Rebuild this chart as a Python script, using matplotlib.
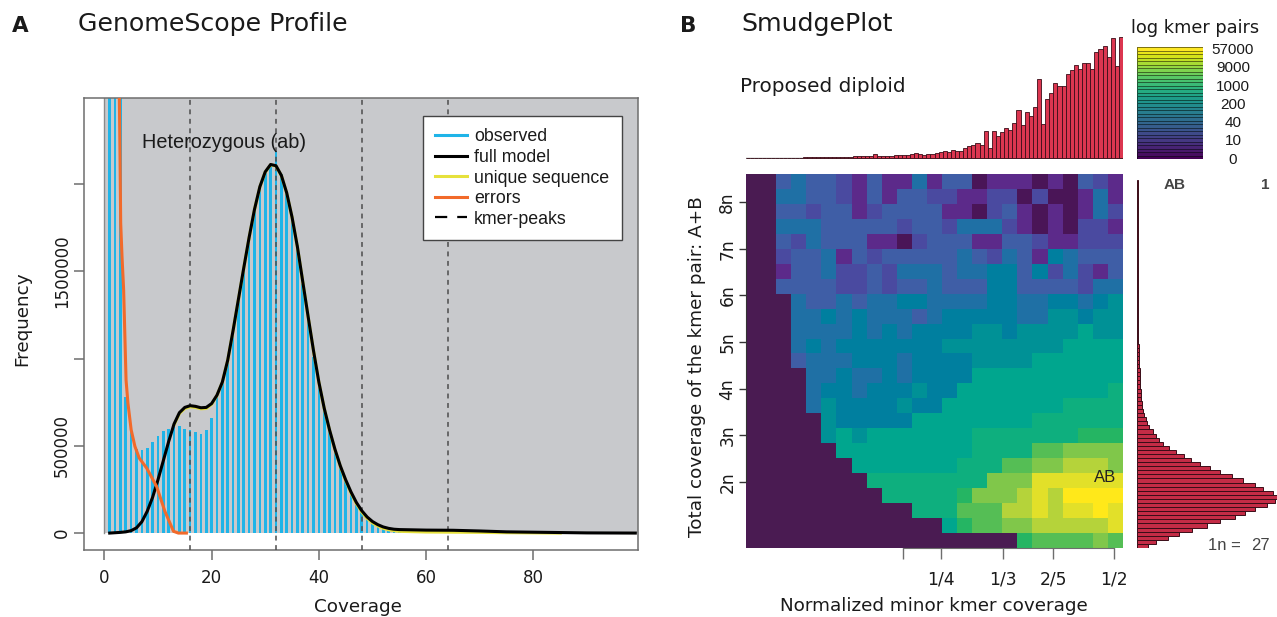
"""
Two-panel figure: GenomeScope k-mer profile (A) and SmudgePlot (B).
"""
import matplotlib
matplotlib.use("Agg")
import matplotlib.pyplot as plt
import numpy as np
from matplotlib.colors import BoundaryNorm, ListedColormap
from matplotlib.lines import Line2D
from matplotlib.patches import Rectangle

W, H = 1277, 617

# Panel A, frequencies in thousands
OBS_X = list(range(1, 61))
OBS_Y = [3000, 3000, 3000, 780, 590, 480, 476, 490, 523, 555,
         587, 596, 605, 616, 596, 588, 577, 570, 592, 659,
         780, 860, 990, 1160, 1330, 1500, 1680, 1860, 1990, 2070,
         2110, 2190, 2060, 1960, 1800, 1650, 1430, 1220, 1010, 840,
         700, 590, 480, 380, 300, 225, 165, 120, 85, 65,
         45, 30, 20, 12, 8, 6, 5, 4, 3, 2]
MODEL_X = list(range(1, 56)) + [60, 65, 70, 75, 80, 85, 90, 99]
MODEL_Y = [0, 2, 4, 7, 14, 30, 65, 125, 205, 305,
           415, 525, 625, 690, 720, 730, 726, 718, 720, 742,
           790, 865, 990, 1160, 1340, 1520, 1695, 1855, 1985, 2070,
           2112, 2105, 2050, 1950, 1810, 1640, 1440, 1240, 1045, 865,
           715, 590, 480, 385, 305, 235, 175, 128, 92, 66,
           48, 35, 27, 22, 20, 17, 16, 12, 7, 5, 3, 1, 0]
UNIQUE_X = list(range(13, 56)) + [60, 65, 70, 75, 80, 85]
UNIQUE_Y = [620, 685, 714, 724, 720, 712, 714, 738,
            788, 864, 988, 1158, 1338, 1518, 1693, 1853, 1983, 2068,
            2110, 2103, 2048, 1948, 1808, 1638, 1438, 1238, 1043, 863,
            713, 587, 477, 381, 300, 229, 168, 120, 84, 58,
            40, 27, 19, 14, 10, 6, 5, 4, 2, 1, 0]
ERR_X = [2.6, 2.8, 2.93, 2.99, 3.05, 3.3, 3.6, 4.05, 4.4, 5.0, 5.7, 6.5, 7.9, 9.75, 11.3, 12.9, 13.8, 15.3]
ERR_Y = [2600, 2493, 2157, 1965, 1776, 1583, 1393, 877, 745, 592, 497, 430, 372, 267, 124, 10, 0, 0]
PEAKS = [16, 32, 48, 64]

# Panel B, minor coverage fractions on the heatmap scale (columns) and n levels
SMUDGE_LEVELS = [
    [0, 0, 4, 5, 4, 4, 3, 2, 4, 2, 2, 5, 2, 4, 4, 1, 2, 2, 2, 1, 2, 1, 4, 3, 2],
    [0, 0, 5, 5, 4, 4, 3, 2, 4, 2, 4, 4, 3, 3, 2, 2, 3, 3, 1, 3, 1, 1, 2, 5, 2],
    [0, 0, 4, 4, 3, 4, 4, 2, 3, 4, 4, 4, 4, 2, 2, 1, 3, 4, 2, 1, 2, 1, 2, 5, 3],
    [0, 0, 5, 5, 5, 4, 4, 4, 4, 4, 3, 4, 4, 3, 5, 5, 5, 3, 2, 1, 2, 1, 3, 3, 2],
    [0, 0, 4, 3, 5, 4, 4, 4, 2, 2, 1, 3, 4, 4, 4, 2, 2, 4, 4, 3, 2, 2, 3, 3, 3],
    [0, 0, 3, 4, 4, 5, 2, 4, 3, 4, 4, 4, 4, 4, 5, 4, 3, 5, 4, 2, 6, 5, 4, 4, 4],
    [0, 0, 2, 4, 4, 5, 3, 3, 4, 3, 5, 5, 5, 4, 5, 5, 6, 6, 4, 6, 3, 5, 3, 2, 4],
    [0, 0, 4, 4, 4, 4, 3, 3, 4, 3, 4, 4, 5, 4, 4, 4, 6, 6, 4, 4, 4, 4, 3, 5, 5],
    [0, 0, 0, 5, 4, 4, 5, 4, 5, 5, 6, 6, 5, 5, 5, 5, 6, 6, 5, 5, 6, 6, 5, 6, 7],
    [0, 0, 0, 5, 5, 6, 5, 6, 5, 5, 5, 4, 5, 6, 6, 6, 6, 6, 5, 5, 7, 7, 6, 7, 7],
    [0, 0, 0, 5, 5, 5, 5, 6, 5, 6, 5, 6, 6, 6, 6, 7, 7, 6, 7, 7, 7, 7, 8, 7, 7],
    [0, 0, 0, 5, 6, 5, 6, 6, 6, 6, 6, 6, 6, 7, 7, 7, 7, 7, 7, 7, 7, 8, 8, 8, 8],
    [0, 0, 0, 4, 5, 5, 5, 6, 6, 6, 5, 6, 6, 6, 6, 7, 7, 7, 7, 8, 8, 8, 8, 8, 8],
    [0, 0, 0, 0, 5, 5, 6, 5, 5, 6, 5, 6, 6, 6, 6, 8, 8, 8, 8, 8, 8, 8, 8, 8, 8],
    [0, 0, 0, 0, 5, 6, 6, 5, 6, 6, 6, 7, 6, 6, 8, 8, 8, 8, 8, 8, 8, 8, 8, 8, 9],
    [0, 0, 0, 0, 5, 7, 6, 6, 6, 6, 7, 6, 6, 8, 8, 8, 8, 8, 8, 8, 8, 9, 9, 9, 9],
    [0, 0, 0, 0, 0, 7, 6, 6, 6, 6, 6, 8, 8, 8, 8, 8, 8, 8, 8, 9, 9, 9, 9, 9, 9],
    [0, 0, 0, 0, 0, 7, 8, 7, 8, 8, 8, 8, 8, 8, 8, 9, 9, 9, 9, 9, 9, 9, 10, 10, 10],
    [0, 0, 0, 0, 0, 0, 8, 8, 8, 8, 8, 8, 8, 8, 8, 9, 9, 9, 9, 11, 11, 12, 12, 12, 12],
    [0, 0, 0, 0, 0, 0, 0, 8, 8, 8, 8, 8, 8, 8, 9, 9, 9, 11, 11, 12, 12, 13, 13, 13, 12],
    [0, 0, 0, 0, 0, 0, 0, 0, 9, 9, 9, 9, 9, 9, 9, 9, 12, 12, 12, 14, 14, 14, 14, 14, 14],
    [0, 0, 0, 0, 0, 0, 0, 0, 0, 9, 9, 9, 9, 9, 10, 12, 12, 12, 13, 14, 13, 15, 15, 15, 15],
    [0, 0, 0, 0, 0, 0, 0, 0, 0, 0, 0, 9, 9, 9, 11, 11, 11, 13, 13, 14, 13, 14, 14, 15, 14],
    [0, 0, 0, 0, 0, 0, 0, 0, 0, 0, 0, 0, 0, 8, 10, 11, 11, 12, 12, 13, 13, 13, 13, 13, 14],
    [0, 0, 0, 0, 0, 0, 0, 0, 0, 0, 0, 0, 0, 0, 0, 0, 0, 0, 10, 11, 11, 11, 11, 12, 11],
]
LEVEL_COLORS = ["#4a1b52", "#4a1557", "#5c2a8a", "#4a4aa0", "#3f5ea6", "#1f70a5",
                "#007f9f", "#009196", "#00a68e", "#0eaf7e", "#25b563", "#55be55",
                "#80c74a", "#b5d33a", "#e2e029", "#ffe81a"]

TOP_HIST = [0.3, 0.3, 0.3, 0.3, 0.4, 0.4, 0.4, 0.4, 0.4, 0.5,
            0.5, 0.5, 0.5, 0.5, 0.6, 0.6, 0.6, 0.6, 1, 1,
            1, 1.2, 1.2, 1.5, 1.5, 1.5, 2, 2, 2, 2,
            2, 4, 2, 2, 2.5, 2.5, 3, 3, 3, 3,
            4, 5, 4, 3, 4, 4, 5, 6, 7, 6,
            8, 7,
            7, 10, 12, 13, 15, 13, 27, 10, 27, 22,
            26, 30, 28, 35, 48, 33, 46, 42, 51, 79,
            34, 59, 65, 75, 72, 72, 84, 88, 93, 89,
            95, 95, 89, 106, 109, 112, 101, 120, 92, 121]
SIDE_HIST = [11, 19, 31, 42, 55, 71, 84, 99, 109, 119,
             131, 139, 141, 137, 127, 119, 107, 96, 84, 74,
             63, 54, 47, 39, 32, 26, 22, 19, 16, 12,
             10, 9, 7, 6, 5, 5, 4, 4,
             4, 3.5, 3.5, 3, 3, 3, 2.5, 2.5, 2, 2,
             2, 2, 1.5, 1.5, 1.5, 1.2, 1.2, 1.2, 1.2, 1.2,
             1.2, 1.2, 1.2, 1.2, 1.2, 1, 1, 1, 1, 1,
             1, 1, 1, 1, 1, 0.8, 0.8, 0.8, 0.8, 0.8,
             0.8, 0.8, 0.8, 0.8, 0.8, 0.6, 0.6, 0.6, 0.6, 0.6,
             0.6, 0.6]
CBAR_LABELS = ["57000", "9000", "1000", "200", "40", "10", "0"]
CBAR_LEVELS = 32
MINOR_TICKS = [10.41, 12.93, 17.05, 20.37, 24.4]
MINOR_LABELS = ["", "1/4", "1/3", "2/5", "1/2"]
N_TICKS = [2, 3, 4, 5, 6, 7, 8]

plt.rcParams["font.family"] = "DejaVu Sans"
ARIAL = "Liberation Sans"
AXIS_GRAY = "#6e6e6e"
TEXT = "#1a1a1a"
RED = "#dc3650"
RED_DARK = "#c42c46"
RED_EDGE = "#3a0d18"


def px_axes(fig, left, top, right, bottom):
    """Axes placed by reference pixel edges."""
    return fig.add_axes([left / W, 1 - bottom / H, (right - left) / W, (bottom - top) / H])


fig = plt.figure(figsize=(W / 100, H / 100), dpi=100)

# ---- panel A
ax = px_axes(fig, 84, 98, 638, 550)
xlim = (-3.79, 99.5)
ylim = (-97, 2493)
ax.set_xlim(xlim)
ax.set_ylim(ylim)
ax.add_patch(Rectangle((0, 0), xlim[1], ylim[1], fc="#c8c9cc", ec="none", zorder=0))
ax.plot([0, 0], [0, ylim[1]], color="#8a8a8a", lw=1, zorder=1)
ax.bar(OBS_X, OBS_Y, width=0.48, color="#1fb4e8", zorder=2)
for peak in PEAKS:
    ax.axvline(peak, color="#4d4d4d", lw=1.1, ls=(0, (3.2, 3)), zorder=3)
ax.plot(UNIQUE_X, UNIQUE_Y, color="#e6e13c", lw=2.2, zorder=4)
ax.plot(MODEL_X, MODEL_Y, color="black", lw=2.2, zorder=5)
ax.plot(ERR_X, ERR_Y, color="#f26a2a", lw=2.2, zorder=6)

for side in ax.spines.values():
    side.set_color(AXIS_GRAY)
    side.set_linewidth(1.1)
ax.set_xticks([0, 20, 40, 60, 80])
ax.set_yticks([0, 500, 1000, 1500, 2000])
ax.set_yticklabels(["0", "500000", "", "1500000", ""], rotation=90, va="center")
ax.tick_params(axis="both", length=7, width=1.1, color=AXIS_GRAY, labelsize=12, labelcolor=TEXT)
ax.tick_params(axis="x", pad=7)
ax.tick_params(axis="y", pad=2.5)
ax.text(141.5 / W, 1 - 143 / H, "Heterozygous (ab)", transform=fig.transFigure,
        family=ARIAL, fontsize=14.3, color=TEXT, va="center", zorder=7)

handles = [
    Line2D([], [], color="#1fb4e8", lw=2.2),
    Line2D([], [], color="black", lw=2.2),
    Line2D([], [], color="#e6e13c", lw=2.2),
    Line2D([], [], color="#f26a2a", lw=2.2),
    Line2D([], [], color="black", lw=1.6, ls=(0, (5.5, 4.5))),
]
labels = ["observed", "full model", "unique sequence", "errors", "kmer-peaks"]
leg = ax.legend(handles, labels, loc="upper left", bbox_to_anchor=(423 / W, 1 - 116 / H),
                bbox_transform=fig.transFigure, borderaxespad=0, borderpad=0.7,
                handlelength=1.75, handletextpad=0.42, labelspacing=0.2,
                fancybox=False, framealpha=1, edgecolor="#444444",
                prop={"family": ARIAL, "size": 12.8})
leg.get_frame().set_linewidth(1.0)
leg.set_zorder(8)
for txt in leg.get_texts():
    txt.set_color(TEXT)

fig.text(22 / W, 1 - 319 / H, "Frequency", rotation=90, ha="center", va="center",
         fontsize=13.2, color=TEXT)
fig.text(358 / W, 1 - 607 / H, "Coverage", ha="center", va="center", fontsize=13.2, color=TEXT)
fig.text(20 / W, 1 - 26 / H, "A", ha="center", va="center", fontsize=15.5, weight="bold", color=TEXT)
fig.text(78 / W, 1 - 24 / H, "GenomeScope Profile", ha="left", va="center", fontsize=18.2, color=TEXT)

# ---- panel B: heatmap
n_low, n_high = 0.587, 8.6
smudge = px_axes(fig, 746, 174, 1123, 548)
cmap = ListedColormap(LEVEL_COLORS)
norm = BoundaryNorm(np.arange(len(LEVEL_COLORS) + 1) - 0.5, cmap.N)
smudge.imshow(SMUDGE_LEVELS, cmap=cmap, norm=norm, aspect="auto", origin="upper",
              interpolation="nearest", extent=[0, 25, n_low, n_high])
for name, side in smudge.spines.items():
    side.set_visible(name in ("left", "bottom"))
    side.set_color(AXIS_GRAY)
smudge.spines["left"].set_bounds(N_TICKS[0], N_TICKS[-1])
smudge.spines["left"].set_color("#333333")
smudge.spines["bottom"].set_bounds(MINOR_TICKS[0], MINOR_TICKS[-1])
smudge.set_xticks(MINOR_TICKS)
smudge.set_xticklabels(MINOR_LABELS)
smudge.set_yticks(N_TICKS)
smudge.set_yticklabels([f"{n}n" for n in N_TICKS], rotation=90, va="center")
smudge.tick_params(axis="x", length=8, width=1, color=AXIS_GRAY, labelsize=12.3,
                   labelcolor=TEXT, pad=8.5)
smudge.tick_params(axis="y", length=5, width=1, color="#333333", labelsize=12.3,
                   labelcolor=TEXT, pad=2)
smudge.text(1105 / W, 1 - 478 / H, "AB", transform=fig.transFigure, family=ARIAL,
            fontsize=12, color="#222222", ha="center", va="center")

fig.text(934 / W, 1 - 606 / H, "Normalized minor kmer coverage", ha="center", va="center",
         fontsize=13.2, color=TEXT)
fig.text(697 / W, 1 - 367 / H, "Total coverage of the kmer pair: A+B", rotation=90,
         ha="center", va="center", fontsize=13.2, color=TEXT)
fig.text(688 / W, 1 - 26 / H, "B", ha="center", va="center", fontsize=15.5, weight="bold", color=TEXT)
fig.text(741 / W, 1 - 24 / H, "SmudgePlot", ha="left", va="center", fontsize=18.2, color=TEXT)
fig.text(740 / W, 1 - 86 / H, "Proposed diploid", ha="left", va="center", fontsize=14.4, color=TEXT)

# top marginal histogram
top = px_axes(fig, 746, 30, 1123, 159)
top.bar(np.arange(len(TOP_HIST)), TOP_HIST, width=1, align="edge", color=RED,
        edgecolor=RED_EDGE, linewidth=0.6)
top.axhline(0, color="#8a8a8a", lw=1, zorder=0)
top.set_xlim(0, len(TOP_HIST))
top.set_ylim(-1, 128)
top.axis("off")

# side marginal histogram
side_ax = px_axes(fig, 1137, 180, 1277, 548)
side_ax.barh(np.arange(len(SIDE_HIST)), SIDE_HIST, height=1, align="edge", color=RED_DARK,
             edgecolor=RED_EDGE, linewidth=0.7)
side_ax.set_ylim(0, len(SIDE_HIST))
side_ax.set_xlim(0, 141)
side_ax.axis("off")
for x, y, s, ha in [(1175, 185, "AB", "center"), (1265, 185, "1", "center")]:
    fig.text(x / W, 1 - y / H, s, ha=ha, va="center", family=ARIAL, fontsize=11,
             color="#444444", weight="bold")
fig.text(1208 / W, 1 - 545 / H, "1n =", ha="left", va="center", family=ARIAL, fontsize=12, color="#444444")
fig.text(1251 / W, 1 - 545 / H, "27", ha="left", va="center", family=ARIAL, fontsize=12, color="#444444")

# colour key
key = px_axes(fig, 1137, 47, 1203, 159)
key_x, key_y = np.meshgrid([0, 1], np.arange(CBAR_LEVELS + 1))
key.pcolormesh(key_x, key_y, np.arange(CBAR_LEVELS)[:, None], cmap="viridis",
               edgecolors=(0, 0, 0, 0.5), linewidth=0.6)
key.set_xlim(0, 1)
key.set_ylim(0, CBAR_LEVELS)
key.axis("off")
for label, y in zip(CBAR_LABELS, [50, 68, 87, 105, 123, 141, 160]):
    fig.text(1233 / W, 1 - y / H, label, ha="center", va="center", family=ARIAL,
             fontsize=11, color=TEXT)
fig.text(1195 / W, 1 - 28 / H, "log kmer pairs", ha="center", va="center", fontsize=12.8, color=TEXT)

fig.savefig("out.png", dpi=100)
plt.close(fig)
